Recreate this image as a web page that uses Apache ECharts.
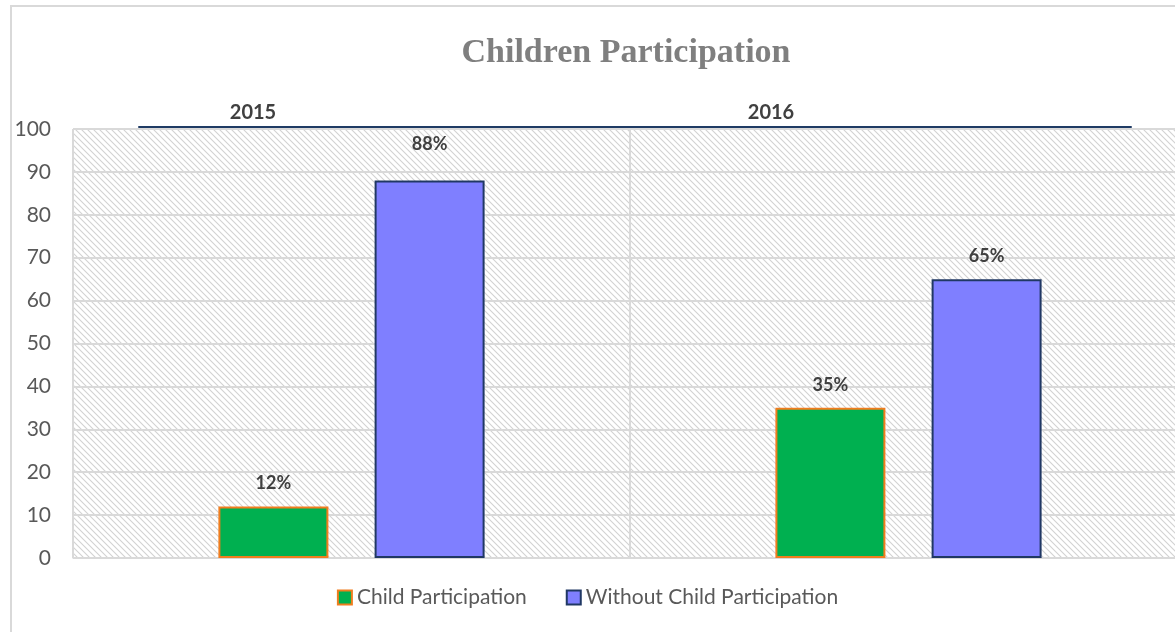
<!DOCTYPE html>
<html><head><meta charset="utf-8">
<script src="https://cdn.jsdelivr.net/npm/echarts@6/dist/echarts.min.js"></script>
<style>html,body{margin:0;padding:0;background:#fff}#c{width:1175px;height:632px}</style>
</head><body><div id="c"></div>
<script>
const categories = ['2015', '2016'];
const childParticipation = [12, 35];
const withoutChildParticipation = [88, 65];
const seriesNames = ['Child Participation', 'Without Child Participation'];
const titleText = 'Children Participation';

function hatch() {
  const c = document.createElement('canvas');
  c.width = 6; c.height = 6;
  const g = c.getContext('2d');
  g.fillStyle = '#ffffff'; g.fillRect(0, 0, 6, 6);
  g.strokeStyle = '#d2d2d2'; g.lineWidth = 1.1;
  g.beginPath();
  g.moveTo(-1, -1); g.lineTo(7, 7);
  g.moveTo(-1, 5); g.lineTo(1, 7);
  g.moveTo(5, -1); g.lineTo(7, 1);
  g.stroke();
  return c;
}

const chart = echarts.init(document.getElementById('c'));
const font = 'Lato, "Noto Sans", sans-serif';
const labelStyle = { show: true, position: 'top', distance: 14, formatter: '{c}%',
  fontFamily: font, fontWeight: 'bold', fontSize: 18, color: '#404040' };
chart.setOption({
  animation: false,
  graphic: [{
    type: 'rect', left: 10, top: 5, z: -10,
    shape: { width: 1200, height: 700 },
    style: { fill: '#fff', stroke: '#d9d9d9', lineWidth: 2 }
  }],
  title: {
    text: titleText, left: 621, top: 31, textAlign: 'center',
    textStyle: { fontFamily: '"Liberation Serif", "DejaVu Serif", serif', fontWeight: 'bold', fontSize: 34, color: '#7f7f7f' }
  },
  legend: {
    bottom: 19, left: 'center', icon: 'rect', itemWidth: 14, itemHeight: 14, itemGap: 39,
    textStyle: { fontFamily: font, fontSize: 21, color: '#595959' },
    data: seriesNames
  },
  grid: [
    { left: 73, right: -12, top: 129, bottom: 74, show: true, outerBoundsMode: 'none',
      backgroundColor: { image: hatch(), repeat: 'repeat' },
      borderColor: '#d9d9d9', borderWidth: 1 },
    { left: 139, right: 44, top: 126, height: 1, outerBoundsMode: 'none' }
  ],
  xAxis: [
    { type: 'category', gridIndex: 0, data: categories,
      axisLine: { show: true, lineStyle: { color: '#d9d9d9', width: 1 } },
      axisTick: { show: false }, axisLabel: { show: false },
      splitLine: { show: true, lineStyle: { color: '#d9d9d9', width: 2 } } },
    { type: 'category', gridIndex: 1, position: 'top', data: categories,
      axisLine: { show: true, lineStyle: { color: '#1f3b64', width: 2 } },
      axisTick: { show: false },
      axisLabel: {
        margin: 3,
        formatter: (v, i) => i === 0 ? '{a|' + v + '}' : '{b|' + v + '}',
        rich: {
          a: { fontFamily: font, fontWeight: 'bold', fontSize: 20, color: '#404040', padding: [0, 268, 0, 0] },
          b: { fontFamily: font, fontWeight: 'bold', fontSize: 20, color: '#404040', padding: [0, 224, 0, 0] }
        }
      } }
  ],
  yAxis: [
    { type: 'value', gridIndex: 0, min: 0, max: 100, interval: 10,
      axisLine: { show: false }, axisTick: { show: false },
      axisLabel: { margin: 22, fontFamily: font, fontSize: 21, color: '#595959' },
      splitLine: { lineStyle: { color: '#d9d9d9', width: 2 } } },
    { type: 'value', gridIndex: 1, show: false }
  ],
  series: [
    { name: seriesNames[0], type: 'bar', data: childParticipation,
      barWidth: 110, barGap: '42%',
      itemStyle: { color: '#00b050', borderColor: '#f07d1e', borderWidth: 2 },
      label: labelStyle },
    { name: seriesNames[1], type: 'bar',
      data: withoutChildParticipation.map((v, i) => i === 0 ? { value: v, label: { distance: 27 } } : v),
      barWidth: 110,
      itemStyle: { color: '#7f7fff', borderColor: '#203864', borderWidth: 2 },
      label: labelStyle }
  ]
});
</script></body></html>
